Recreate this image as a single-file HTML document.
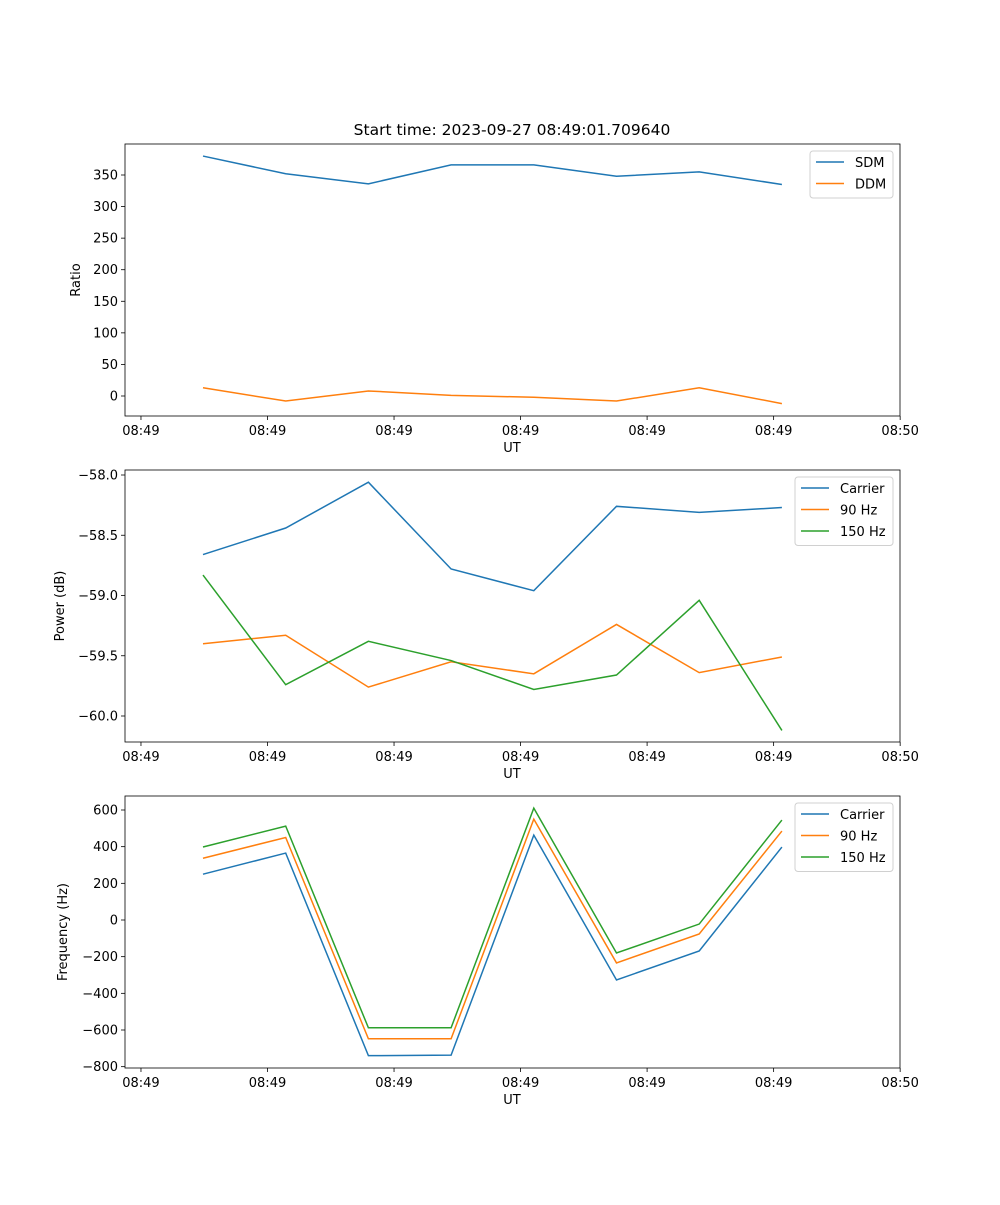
<!DOCTYPE html>
<html><head><meta charset="utf-8"><style>
body{margin:0;background:#fff;}
svg text{font-family:"DejaVu Sans","Liberation Sans",sans-serif;font-size:13px;fill:#000;}
</style></head><body>
<svg id="chart" width="1000" height="1200" xmlns="http://www.w3.org/2000/svg">
<text x="512" y="135" text-anchor="middle" style="font-size:15.5px">Start time: 2023-09-27 08:49:01.709640</text>
</svg>
<script>
const xTickLabels = ["08:49","08:49","08:49","08:49","08:49","08:49","08:50"];
const xTickIdx = [-0.75, 0.78, 2.31, 3.84, 5.37, 6.90, 8.43];
const sdm = [380, 352, 336, 366, 366, 348, 355, 335];
const ddm = [13, -8, 8, 1, -2, -8, 13, -12];
const powCarrier = [-58.66, -58.44, -58.06, -58.78, -58.96, -58.26, -58.31, -58.27];
const pow90 = [-59.40, -59.33, -59.76, -59.55, -59.65, -59.24, -59.64, -59.51];
const pow150 = [-58.83, -59.74, -59.38, -59.54, -59.78, -59.66, -59.04, -60.12];
const freqCarrier = [250, 365, -740, -737, 463, -327, -169, 398];
const freq90 = [337, 450, -648, -648, 550, -234, -76, 485];
const freq150 = [398, 512, -588, -588, 610, -180, -22, 545];
const ticks1 = [0,50,100,150,200,250,300,350];
const ticks2 = [-60.0,-59.5,-59.0,-58.5,-58.0];
const ticks3 = [-800,-600,-400,-200,0,200,400,600];

const NS="http://www.w3.org/2000/svg";
const svg=document.getElementById('chart');
function mk(tag,attrs,parent){const e=document.createElementNS(NS,tag);for(const k in attrs)e.setAttribute(k,attrs[k]);(parent||svg).appendChild(e);return e;}
const X0=125,X1=900;
const xs=i=>203+i*82.7;

function panel(cfg){
  const g=mk('g',{});
  
  
  const ys=v=>cfg.py0+(v-cfg.v0)*(cfg.py1-cfg.py0)/(cfg.v1-cfg.v0);
  // y ticks
  cfg.yt.forEach(t=>{
    const y=ys(t);
    mk('line',{x1:X0-4,x2:X0,y1:y,y2:y,stroke:'#000','stroke-width':0.8},g);
    const tx=mk('text',{x:X0-7,y:y+4.5,'text-anchor':'end'},g);
    tx.textContent=cfg.fmt(t).replace('-','\u2212');
    
    
  });
  xTickIdx.forEach((t,k)=>{
    const x=xs(t);
    mk('line',{x1:x,x2:x,y1:cfg.bot,y2:cfg.bot+4,stroke:'#000','stroke-width':0.8},g);
    const tx=mk('text',{x:x,y:cfg.bot+19,'text-anchor':'middle'},g);
    tx.textContent=xTickLabels[k];
    
    
  });
  const xl=mk('text',{x:512,y:cfg.bot+36,'text-anchor':'middle'},g);
  xl.textContent='UT';
  
  
  const yl=mk('text',{x:cfg.ylx,y:(cfg.top+cfg.bot)/2,'text-anchor':'middle',transform:`rotate(-90 ${cfg.ylx} ${(cfg.top+cfg.bot)/2})`},g);
  yl.textContent=cfg.ylabel;
  
  
  cfg.series.forEach(s=>{
    const p=mk('polyline',{points:s.d.map((v,i)=>xs(i)+','+ys(v)).join(' '),fill:'none',stroke:s.c,'stroke-width':1.5},g);
    
    
  });
  const fr=mk('rect',{x:X0,y:cfg.top,width:X1-X0,height:cfg.bot-cfg.top,fill:'none',stroke:'#000','stroke-width':0.8},g);
  
  
  // legend
  const lg=mk('g',{},g);
  
  
  const h=cfg.series.length*21.5+4;
  mk('rect',{x:cfg.lx,y:cfg.top+7,width:893-cfg.lx,height:h,rx:3,fill:'#fff',stroke:'#ccc','stroke-width':1,opacity:0.9},lg);
  cfg.series.forEach((s,k)=>{
    const y=cfg.top+18+k*21.5;
    mk('line',{x1:cfg.lx+6,x2:cfg.lx+34,y1:y,y2:y,stroke:s.c,'stroke-width':1.5},lg);
    const t=mk('text',{x:cfg.lx+45,y:y+5},lg);
    t.textContent=s.n;
    
    
  });
}
panel({name:'ratio-panel',top:144,bot:416,py0:396,py1:175,v0:0,v1:350,yt:ticks1,fmt:v=>String(v),ylabel:'Ratio',ylx:80,lx:810,
  series:[{n:'SDM',d:sdm,c:'#1f77b4'},{n:'DDM',d:ddm,c:'#ff7f0e'}]});
panel({name:'power-panel',top:470,bot:742,py0:475,py1:716,v0:-58.0,v1:-60.0,yt:ticks2,fmt:v=>v.toFixed(1),ylabel:'Power (dB)',ylx:64,lx:795,
  series:[{n:'Carrier',d:powCarrier,c:'#1f77b4'},{n:'90 Hz',d:pow90,c:'#ff7f0e'},{n:'150 Hz',d:pow150,c:'#2ca02c'}]});
panel({name:'frequency-panel',top:796,bot:1068,py0:920,py1:810,v0:0,v1:600,yt:ticks3,fmt:v=>String(v),ylabel:'Frequency (Hz)',ylx:67,lx:795,
  series:[{n:'Carrier',d:freqCarrier,c:'#1f77b4'},{n:'90 Hz',d:freq90,c:'#ff7f0e'},{n:'150 Hz',d:freq150,c:'#2ca02c'}]});
</script>
</body></html>
